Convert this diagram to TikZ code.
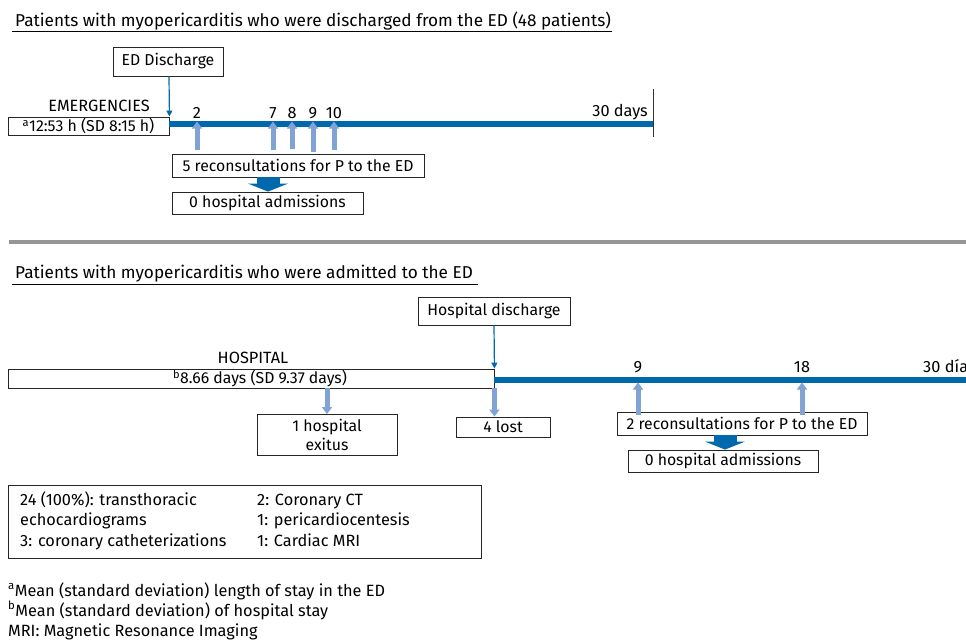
\documentclass[tikz,border=0pt]{standalone}
\usepackage{fontspec}
\setmainfont{Fira Sans}
\usetikzlibrary{arrows.meta}
\definecolor{lineblue}{RGB}{0,104,172}
\definecolor{arrowblue}{RGB}{128,162,212}
\definecolor{sepgrey}{RGB}{150,150,150}

\begin{document}
\begin{tikzpicture}[x=1pt,y=-1pt,
  font=\fontsize{16.3}{19.5}\selectfont,
  box/.style={draw=black!85,line width=0.9pt,inner sep=0pt,font=\fontsize{15.8}{19}\selectfont},
  lbl/.style={inner sep=0pt},
  heading/.style={inner sep=0pt,anchor=base west,font=\fontsize{17.2}{20}\selectfont},
  timeline/.style={lineblue,line width=6pt},
  thinarrow/.style={lineblue,line width=1.2pt,-{Triangle[width=6pt,length=6pt]}},
  visitarrow/.style={arrowblue,line width=5pt,-{Triangle[width=10pt,length=7pt]}},
  blockarrow/.style={lineblue,line width=23pt,-{Triangle[width=40pt,length=8pt]}}]
\useasboundingbox (0,0) rectangle (966,641);

% discharged from the ED
\node[heading] (title1) at (15,26) {Patients with myopericarditis who were discharged from the ED (48 patients)};
\draw[line width=0.9pt] (12,31.5) -- (612,31.5);
\node[box,minimum width=110pt,minimum height=29pt] (eddis) at (168,61.5) {ED Discharge};
\node[lbl] (emerg) at (99,106) {EMERGENCIES};
\node[box,minimum width=161pt,minimum height=18pt] (edstay) at (88.5,126) {\textsuperscript{a}12:53 h (SD 8:15 h)};
\coordinate (t1s) at (169,124);
\coordinate (t1e) at (653,124);
\draw[timeline] (t1s) -- (t1e);
\draw[line width=1pt,black!80] (653,89) -- (653,137);
\draw[thinarrow] (eddis.south -| t1s) -- (edstay.north east);
\node[lbl,anchor=base east] (days30) at (648,116) {30 days};
\foreach \d/\x/\b in {2/197/150,7/273/150,8/292/149,9/313/152,10/334/150}{
  \node[lbl,anchor=base] (d\d) at (\x,118) {\d};
  \coordinate (v\d) at (\x,\b);
  \draw[visitarrow] (v\d) -- (v\d |- 0,121.5);
}
\node[box,minimum width=252pt,minimum height=23pt] (recon1) at (298,165.5) {5 reconsultations for P to the ED};
\node[box,minimum width=191pt,minimum height=22pt] (adm1) at (267.5,203) {0 hospital admissions};
\draw[blockarrow] (recon1.south -| 268,0) -- (adm1.north -| 268,0);

\draw[sepgrey,line width=3.5pt] (9,242) -- (966,242);

% admitted to the ED
\node[heading] (title2) at (15,278) {Patients with myopericarditis who were admitted to the ED};
\draw[line width=0.9pt] (12,284.5) -- (478,284.5);
\node[box,minimum width=152pt,minimum height=28pt] (hosdis) at (494,311) {Hospital discharge};
\node[lbl] (hosp) at (253,358) {HOSPITAL};
\node[box,minimum width=486pt,minimum height=19pt] (hosstay) at (251,378.5) {\hspace*{18pt}\textsuperscript{b}8.66 days (SD 9.37 days)};
\coordinate (t2s) at (494,380);
\coordinate (t2e) at (966,380);
\draw[timeline] (t2s) -- (t2e);
\draw[thinarrow] (hosdis.south) -- (hosstay.north east);
\node[lbl,anchor=base] (h9) at (638,372) {9};
\node[lbl,anchor=base] (h18) at (802,372) {18};
\node[lbl,anchor=base west] (dias30) at (923,372) {30 días};
\node[box,minimum width=140pt,minimum height=41pt,align=center] (exitus) at (327,435) {1 hospital\\exitus};
\node[box,minimum width=94pt,minimum height=20pt] (lost) at (503,427) {4 lost};
\draw[visitarrow] (hosstay.south -| exitus.north) -- (exitus.north);
\draw[visitarrow] (hosstay.south east) -- (lost.north -| hosstay.east);
\node[box,minimum width=250pt,minimum height=23pt] (recon2) at (742,423.5) {2 reconsultations for P to the ED};
\node[box,minimum width=190pt,minimum height=22pt] (adm2) at (723,461) {0 hospital admissions};
\draw[visitarrow] ([yshift=-3pt]recon2.north -| h9) -- (h9 |- 0,382.5);
\draw[visitarrow] ([yshift=-3pt]recon2.north -| h18) -- (h18 |- 0,382.5);
\draw[blockarrow] (recon2.south -| 725,0) -- (adm2.north -| 725,0);

\node[box,minimum width=473pt,minimum height=73pt] (tests) at (244.5,521.5) {};
\node[lbl,anchor=base west] (tl1) at (20,505) {24 (100\%): transthoracic};
\node[lbl,anchor=base west] (tl2) at (20,525) {echocardiograms};
\node[lbl,anchor=base west] (tl3) at (20,546) {3: coronary catheterizations};
\node[lbl,anchor=base west] (tr1) at (257,505) {2: Coronary CT};
\node[lbl,anchor=base west] (tr2) at (257,525) {1: pericardiocentesis};
\node[lbl,anchor=base west] (tr3) at (257,546) {1: Cardiac MRI};

\node[lbl,anchor=base west] (fna) at (8,596) {\textsuperscript{a}Mean (standard deviation) length of stay in the ED};
\node[lbl,anchor=base west] (fnb) at (8,616) {\textsuperscript{b}Mean (standard deviation) of hospital stay};
\node[lbl,anchor=base west] (fnm) at (8,636) {MRI: Magnetic Resonance Imaging};
\end{tikzpicture}
\end{document}
